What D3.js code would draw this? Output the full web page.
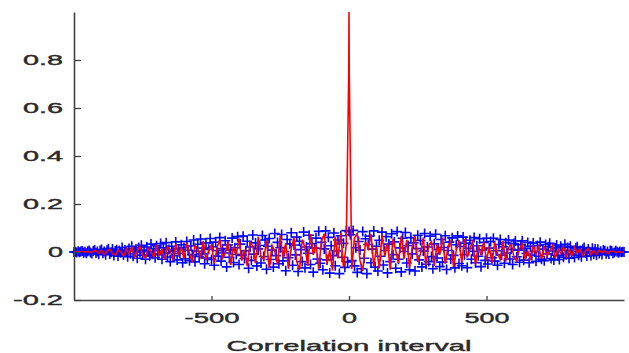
<!DOCTYPE html>
<html>
<head>
<meta charset="utf-8">
<script src="https://cdn.jsdelivr.net/npm/d3@7"></script>
<style>
  body { margin: 0; background: #fff; }
  svg { display: block; }
</style>
</head>
<body>
<script>
// red line: every 10 samples from -1000 to 1000, plus +-1 next to the peak
var redLags = d3.range(-1000, 1001, 10);
var peakLags = [-1, 1];
var peakValues = [0.74, 0.74];

var redValues = [
  0.000, 0.001, -0.002, 0.003, -0.001, 0.004, -0.003, 0.002, 0.006, -0.005,
  0.007, -0.010, 0.003, 0.012, -0.006, -0.013, 0.009, 0.001, -0.016, 0.014,
  -0.008, 0.020, -0.019, 0.005, 0.024, -0.012, -0.026, 0.016, 0.002, -0.021,
  0.029, -0.015, 0.011, -0.031, 0.022, 0.006, -0.035, 0.033, -0.009, 0.018,
  -0.028, 0.039, -0.004, -0.042, 0.026, 0.013, -0.020, 0.046, -0.035, 0.008,
  0.031, -0.049, 0.017, 0.052, -0.026, -0.006, 0.044, -0.055, 0.022, -0.013,
  0.057, -0.036, 0.010, -0.060, 0.040, 0.025, -0.047, 0.063, -0.018, -0.031,
  0.048, -0.066, 0.028, 0.004, -0.052, 0.069, -0.023, 0.037, -0.070, 0.015,
  0.061, -0.040, -0.074, 0.052, 0.019, -0.058, 0.075, -0.012, 0.033, -0.071,
  0.046, 0.076, -0.050, 0.008, -0.078, 0.064, -0.027, 0.079, -0.066, 0.030,
  1.000,
  -0.072, 0.058, 0.078, -0.035, -0.079, 0.042, 0.014, 0.074, -0.061, 0.022,
  -0.068, 0.070, -0.016, 0.038, -0.074, 0.055, 0.005, -0.046, 0.067, -0.029,
  0.051, -0.064, 0.019, 0.066, -0.041, -0.008, 0.060, -0.055, 0.027, 0.043,
  -0.058, 0.032, -0.012, 0.061, -0.049, 0.021, 0.045, -0.062, 0.006, 0.050,
  -0.044, 0.054, -0.023, 0.010, 0.048, -0.053, 0.029, -0.014, 0.042, -0.036,
  0.024, -0.046, 0.040, -0.007, -0.031, 0.045, -0.040, 0.017, 0.034, -0.022,
  -0.036, 0.013, 0.033, -0.027, 0.005, -0.034, 0.028, -0.011, 0.022, -0.030,
  0.025, -0.018, 0.004, 0.027, -0.024, 0.013, -0.007, 0.021, -0.020, 0.009,
  -0.016, 0.019, -0.005, 0.012, -0.015, 0.003, 0.014, -0.011, 0.007, -0.009,
  0.008, -0.004, 0.006, -0.006, 0.002, 0.004, -0.003, 0.002, -0.001, 0.000
];

// blue + markers: every 5 samples from -1000 to 1000
var blueLags = d3.range(-1000, 1001, 5);
var blueValues = [
  0.000, 0.001, -0.002, 0.003, -0.001, 0.002, 0.004, -0.003, 0.001, -0.005, 0.003, 0.006, -0.002, -0.006, 0.004, 0.008, -0.004, 0.002, -0.009, 0.006,
  0.010, -0.005, 0.002, -0.011, 0.007, 0.014, -0.008, -0.001, 0.012, -0.015, 0.004, 0.009, -0.017, 0.006, -0.003, 0.019, -0.012, 0.008, 0.003, -0.020,
  0.015, -0.007, 0.024, -0.018, 0.004, 0.011, -0.026, 0.019, -0.002, 0.028, -0.013, 0.008, -0.030, 0.021, 0.001, -0.016, 0.033, -0.009, 0.014, -0.024,
  0.026, -0.011, 0.005, 0.035, -0.030, 0.018, -0.004, 0.039, -0.021, 0.010, -0.040, 0.024, 0.002, -0.015, 0.042, -0.033, 0.013, -0.006, 0.030, -0.045,
  0.019, -0.028, 0.044, 0.007, -0.036, 0.025, -0.012, 0.050, -0.041, 0.003, 0.032, -0.019, 0.054, -0.008, 0.016, -0.049, 0.038, -0.025, 0.011, 0.056,
  -0.031, 0.022, -0.055, 0.041, 0.006, -0.017, 0.060, -0.038, 0.014, -0.004, 0.047, -0.062, 0.029, -0.022, 0.009, 0.058, -0.044, 0.018, -0.010, 0.064,
  -0.052, 0.033, -0.014, 0.066, -0.027, 0.005, 0.045, -0.068, 0.021, -0.035, 0.071, -0.009, 0.038, -0.058, 0.013, 0.027, -0.046, 0.069, -0.019, 0.050,
  -0.072, 0.024, 0.056, -0.031, 0.008, -0.063, 0.077, -0.015, 0.040, -0.049, 0.018, 0.073, -0.037, 0.002, -0.078, 0.052, -0.024, 0.034, 0.080, -0.055,
  0.029, -0.012, 0.062, -0.081, 0.045, 0.010, -0.040, 0.083, -0.066, 0.021, -0.005, 0.070, -0.052, 0.035, -0.084, 0.016, 0.058, -0.029, 0.086, -0.047,
  0.040, -0.074, 0.013, 0.088, -0.033, 0.061, -0.088, 0.026, -0.015, 0.079, -0.057, 0.004, 0.050, -0.090, 0.068, -0.022, 0.036, -0.064, 0.089, -0.041,
  0.085,
  0.072, -0.036, 0.090, -0.058, 0.018, -0.085, 0.044, 0.008, -0.070, 0.085, -0.026, 0.055, -0.090, 0.031, 0.066, -0.045, 0.012, 0.088, -0.063, 0.024,
  -0.079, 0.049, -0.018, 0.083, -0.054, 0.006, 0.064, -0.087, 0.033, -0.040, 0.076, -0.011, 0.042, -0.068, 0.085, -0.030, 0.017, -0.083, 0.057, 0.002,
  0.081, -0.046, 0.027, -0.074, 0.060, -0.008, 0.038, -0.079, 0.014, 0.070, -0.033, 0.048, -0.062, 0.004, 0.077, -0.051, 0.021, -0.040, 0.066, -0.019,
  -0.070, 0.034, 0.074, -0.025, 0.010, -0.061, 0.052, -0.042, 0.019, 0.068, -0.073, 0.006, 0.041, -0.029, 0.059, -0.014, -0.066, 0.030, 0.067, -0.048,
  0.023, -0.057, 0.062, -0.011, 0.037, -0.065, 0.015, 0.049, -0.030, 0.003, 0.060, -0.045, 0.026, -0.018, 0.055, -0.061, 0.009, 0.040, -0.035, 0.057,
  -0.050, 0.016, 0.044, -0.024, 0.057, -0.038, 0.005, -0.055, 0.031, 0.052, -0.013, 0.022, -0.047, 0.039, -0.004, 0.050, -0.029, 0.011, -0.052, 0.035,
  0.046, -0.020, 0.008, -0.043, 0.030, 0.047, -0.034, 0.015, -0.006, 0.040, -0.045, 0.024, -0.013, 0.037, 0.002, -0.039, 0.027, -0.018, 0.041, -0.030,
  0.012, -0.036, 0.031, -0.008, 0.022, 0.036, -0.027, 0.004, -0.033, 0.017, 0.029, -0.015, -0.031, 0.024, 0.007, -0.022, 0.032, -0.011, 0.019, -0.026,
  0.024, -0.009, 0.003, -0.023, 0.017, 0.022, -0.014, 0.006, -0.020, 0.011, 0.019, -0.004, -0.017, 0.013, 0.001, -0.015, 0.016, -0.008, 0.012, -0.013,
  0.011, -0.006, 0.003, -0.010, 0.008, 0.005, -0.007, 0.002, -0.008, 0.006, 0.004, -0.005, -0.002, 0.005, 0.001, -0.003, 0.002, -0.001, 0.001, 0.000
];

var xTicks = [-500, 0, 500];
var yTicks = [-0.2, 0, 0.2, 0.4, 0.6, 0.8];
var xLabel = "Correlation interval";

var width = 629, height = 353;

var svg = d3.select("body").append("svg")
    .attr("width", width)
    .attr("height", height);

var x = d3.scaleLinear().domain([-1000, 1000]).range([74, 624]);
var y = d3.scaleLinear().domain([-0.2, 1.0]).range([300, 12]);

var red = redLags.map(function(l, i) { return { lag: l, v: redValues[i] }; })
    .concat(peakLags.map(function(l, i) { return { lag: l, v: peakValues[i] }; }))
    .sort(function(a, b) { return a.lag - b.lag; });

var blue = blueLags.map(function(l, i) { return { lag: l, v: blueValues[i] }; });

// blue plus markers
var m = 5;
svg.append("g").selectAll("path")
    .data(blue).enter()
    .append("path")
    .attr("d", function(d) {
        var cx = x(d.lag), cy = y(d.v);
        return "M" + (cx - m) + "," + cy + "H" + (cx + m) +
               "M" + cx + "," + (cy - m) + "V" + (cy + m);
    })
    .attr("stroke", "#0000ff")
    .attr("stroke-width", 1.6)
    .attr("fill", "none");

// red line
var line = d3.line()
    .x(function(d) { return x(d.lag); })
    .y(function(d) { return y(d.v); });

svg.append("path")
    .datum(red)
    .attr("d", line)
    .attr("fill", "none")
    .attr("stroke", "#ff0000")
    .attr("stroke-width", 1.6);

// text in the picture is stretched wide, so each label gets a length
function labelLen(s) {
    var w = 0;
    for (var c of s) {
        if (c == ".") w += 10;
        else if (c == "-") w += 10;
        else w += 15;
    }
    return w;
}
function fmt(d) { return d3.format("")(d).replace("\u2212", "-"); }

var xAxis = svg.append("g")
    .attr("transform", "translate(0,300)")
    .call(d3.axisBottom(x).tickValues(xTicks).tickFormat(fmt)
        .tickSizeInner(-4).tickSizeOuter(0).tickPadding(12));

var yAxis = svg.append("g")
    .attr("transform", "translate(74,0)")
    .call(d3.axisLeft(y).tickValues(yTicks).tickFormat(fmt)
        .tickSizeInner(-7).tickSizeOuter(0).tickPadding(11));

[xAxis, yAxis].forEach(function(g) {
    g.select(".domain").attr("stroke", "#444").attr("stroke-width", 1.6);
    g.selectAll(".tick line").attr("stroke", "#444").attr("stroke-width", 1.3);
    g.selectAll(".tick text")
        .attr("fill", "#2a2a2a")
        .attr("stroke", "#2a2a2a")
        .attr("stroke-width", 0.4)
        .attr("font-family", "Liberation Sans, Arial, sans-serif")
        .attr("font-size", 15)
        .attr("textLength", function(d) { return labelLen(fmt(d)); })
        .attr("lengthAdjust", "spacingAndGlyphs");
});

svg.append("text")
    .attr("x", x(0))
    .attr("y", 351)
    .attr("text-anchor", "middle")
    .attr("fill", "#2a2a2a")
    .attr("stroke", "#2a2a2a")
    .attr("stroke-width", 0.4)
    .attr("font-family", "Liberation Sans, Arial, sans-serif")
    .attr("font-size", 15)
    .attr("textLength", 245)
    .attr("lengthAdjust", "spacingAndGlyphs")
    .text(xLabel);
</script>
</body>
</html>
